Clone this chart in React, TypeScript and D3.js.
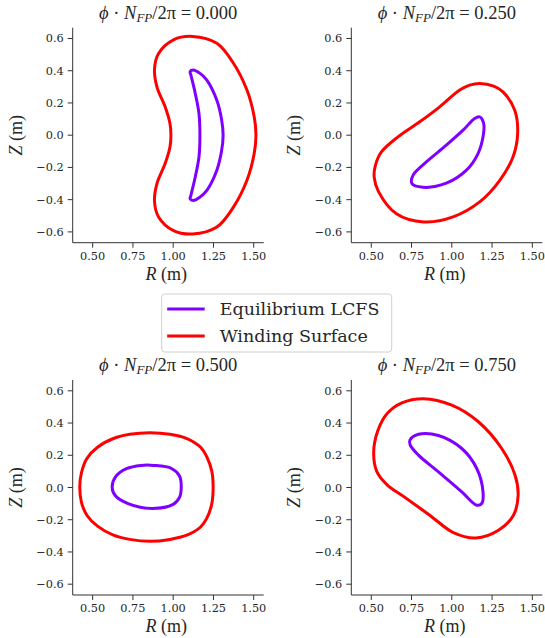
import React from 'react';
import * as d3 from 'd3';

// ---------- data (R, Z) in metres ----------
const phaseLabels = ['0.000', '0.250', '0.500', '0.750'];
const xTicks = [0.5, 0.75, 1.0, 1.25, 1.5];
const yTicks = [-0.6, -0.4, -0.2, 0.0, 0.2, 0.4, 0.6];
const seriesNames = ['Equilibrium LCFS', 'Winding Surface'];
const seriesColors = ['#8000ff', '#ff0000'];

const lcfs0: [number, number][] = [
  [1.105, 0.395], [1.125, 0.405], [1.165, 0.385], [1.209, 0.342], [1.271, 0.217], [1.300, 0.100],
  [1.310, 0.0], [1.300, -0.100], [1.271, -0.217], [1.209, -0.342], [1.165, -0.385], [1.125, -0.405],
  [1.105, -0.395], [1.110, -0.373], [1.137, -0.259], [1.160, -0.135], [1.166, 0.0], [1.160, 0.135],
  [1.137, 0.259], [1.110, 0.373],
];
const ws0: [number, number][] = [
  [1.120, 0.613], [1.271, 0.570], [1.375, 0.445], [1.458, 0.280], [1.503, 0.114], [1.514, 0.0],
  [1.503, -0.114], [1.458, -0.280], [1.375, -0.445], [1.271, -0.570], [1.120, -0.613], [1.002, -0.592],
  [0.909, -0.507], [0.884, -0.410], [0.899, -0.300], [0.950, -0.176], [0.980, -0.073], [0.986, 0.0],
  [0.980, 0.073], [0.950, 0.176], [0.899, 0.300], [0.884, 0.410], [0.909, 0.507], [1.002, 0.592],
];
const lcfs1: [number, number][] = [
  [1.173, 0.114], [1.198, 0.073], [1.194, -0.010], [1.163, -0.114], [1.091, -0.217], [0.966, -0.298],
  [0.821, -0.323], [0.752, -0.300], [0.760, -0.248], [0.842, -0.166], [0.966, -0.062], [1.070, 0.031],
  [1.142, 0.104],
];
const ws1: [number, number][] = [
  [1.173, 0.321], [1.260, 0.305], [1.318, 0.269], [1.391, 0.155], [1.409, 0.010], [1.380, -0.135],
  [1.298, -0.280], [1.173, -0.414], [1.008, -0.507], [0.825, -0.538], [0.656, -0.487], [0.545, -0.350],
  [0.518, -0.260], [0.525, -0.190], [0.563, -0.104], [0.666, -0.010], [0.801, 0.083], [0.925, 0.176],
  [1.049, 0.280], [1.111, 0.311],
];
const lcfs2: [number, number][] = [
  [0.880, 0.137], [0.990, 0.118], [1.040, 0.070], [1.050, 0.004], [1.040, -0.060], [1.000, -0.105],
  [0.870, -0.130], [0.720, -0.100], [0.640, -0.050], [0.621, 0.004], [0.645, 0.070], [0.710, 0.117],
  [0.800, 0.137],
];
const ws2: [number, number][] = [
  [0.857, 0.340], [0.980, 0.330], [1.085, 0.304], [1.170, 0.250], [1.209, 0.190], [1.240, 0.100],
  [1.248, 0.004], [1.240, -0.100], [1.209, -0.190], [1.170, -0.245], [1.085, -0.296], [0.980, -0.322],
  [0.857, -0.334], [0.730, -0.322], [0.629, -0.296], [0.530, -0.240], [0.464, -0.172], [0.430, -0.090],
  [0.420, 0.004], [0.430, 0.090], [0.464, 0.180], [0.530, 0.250], [0.629, 0.304], [0.730, 0.330],
];
const lcfs3: [number, number][] = [
  [0.740, 0.294], [0.793, 0.330], [0.917, 0.323], [1.062, 0.242], [1.155, 0.118], [1.194, -0.027],
  [1.186, -0.099], [1.155, -0.110], [1.062, -0.027], [0.917, 0.097], [0.793, 0.201], [0.742, 0.263],
];
const ws3: [number, number][] = [
  [0.824, 0.551], [1.000, 0.511], [1.165, 0.408], [1.310, 0.242], [1.393, 0.076], [1.412, -0.048],
  [1.383, -0.172], [1.290, -0.265], [1.150, -0.313], [1.010, -0.280], [0.863, -0.172], [0.700, -0.055],
  [0.600, 0.015], [0.534, 0.100], [0.515, 0.220], [0.540, 0.350], [0.600, 0.460], [0.690, 0.525],
];

const lcfsList = [lcfs0, lcfs1, lcfs2, lcfs3];
const wsList = [ws0, ws1, ws2, ws3];

// ---------- layout ----------
const W = 545;
const H = 638;
const colX = [72.7, 351.3];
const rowY = [27.7, 380];
const PW = 191;
const PH = 215;
const xDomain: [number, number] = [0.376, 1.562];
const yDomain: [number, number] = [-0.667, 0.667];
const SERIF = "'DejaVu Serif', serif";
const MATH = "'Liberation Serif', 'DejaVu Serif', serif";
const AX = '#333333';

function Panel({ idx }: { idx: number }) {
  const x0 = colX[idx % 2];
  const y0 = rowY[Math.floor(idx / 2)];
  const xs = d3.scaleLinear().domain(xDomain).range([x0, x0 + PW]);
  const ys = d3.scaleLinear().domain(yDomain).range([y0 + PH, y0]);
  const line = d3
    .line<[number, number]>()
    .x((d) => xs(d[0]))
    .y((d) => ys(d[1]))
    .curve(d3.curveCatmullRomClosed.alpha(0.5));
  const yb = y0 + PH;
  return (
    <g>
      <path d={line(wsList[idx]) || ''} fill="none" stroke={seriesColors[1]} strokeWidth={3} />
      <path d={line(lcfsList[idx]) || ''} fill="none" stroke={seriesColors[0]} strokeWidth={3} />
      <line x1={x0} y1={y0} x2={x0} y2={yb} stroke={AX} strokeWidth={1} />
      <line x1={x0} y1={yb} x2={x0 + PW} y2={yb} stroke={AX} strokeWidth={1} />
      {yTicks.map((t) => (
        <g key={'y' + t}>
          <line x1={x0 - 5} x2={x0} y1={ys(t)} y2={ys(t)} stroke={AX} strokeWidth={1} />
          <text x={x0 - 9} y={ys(t) + 4} textAnchor="end" fontFamily={SERIF} fontSize={11.3} fill="#262626">
            {(t < 0 ? '\u2212' : '') + Math.abs(t).toFixed(1)}
          </text>
        </g>
      ))}
      {xTicks.map((t) => (
        <g key={'x' + t}>
          <line x1={xs(t)} x2={xs(t)} y1={yb} y2={yb + 5} stroke={AX} strokeWidth={1} />
          <text x={xs(t)} y={yb + 17} textAnchor="middle" fontFamily={SERIF} fontSize={11.3} fill="#262626">
            {t.toFixed(2)}
          </text>
        </g>
      ))}
      <text x={x0 + PW / 2} y={y0 - 9} textAnchor="middle" fontFamily={MATH} fontSize={18.5} fill="#262626">
        <tspan fontStyle="italic">{'\u03d5'}</tspan>
        <tspan>{' \u00b7 '}</tspan>
        <tspan fontStyle="italic">N</tspan>
        <tspan fontStyle="italic" fontSize={13} dy={3}>FP</tspan>
        <tspan dy={-3}>{'/2\u03c0 = ' + phaseLabels[idx]}</tspan>
      </text>
      <text x={x0 + PW / 2 - 2} y={yb + 37} textAnchor="middle" fontFamily={MATH} fontSize={18} fill="#262626">
        <tspan fontStyle="italic">R</tspan>
        <tspan>{' (m)'}</tspan>
      </text>
      <text
        transform={`translate(${x0 - 51}, ${y0 + PH / 2}) rotate(-90)`}
        textAnchor="middle"
        fontFamily={MATH}
        fontSize={18}
        fill="#262626"
      >
        <tspan fontStyle="italic">Z</tspan>
        <tspan>{' (m)'}</tspan>
      </text>
    </g>
  );
}

export default function App() {
  const lx = 161.7;
  const ly = 294;
  return (
    <svg width={W} height={H} style={{ position: 'absolute', left: 0, top: 0, background: '#fff' }}>
      <rect x={0} y={0} width={W} height={H} fill="#fff" />
      {[0, 1, 2, 3].map((i) => (
        <Panel key={i} idx={i} />
      ))}
      <rect x={lx} y={ly} width={230} height={58} rx={3} fill="#fff" stroke="#d0d0d0" strokeWidth={1} />
      {seriesNames.map((n, i) => (
        <g key={n}>
          <line x1={lx + 5.5} x2={lx + 43} y1={ly + 15 + i * 27} y2={ly + 15 + i * 27} stroke={seriesColors[i]} strokeWidth={3} />
          <text x={lx + 58} y={ly + 21 + i * 27} fontFamily={SERIF} fontSize={17.5} fill="#262626">
            {n}
          </text>
        </g>
      ))}
    </svg>
  );
}
